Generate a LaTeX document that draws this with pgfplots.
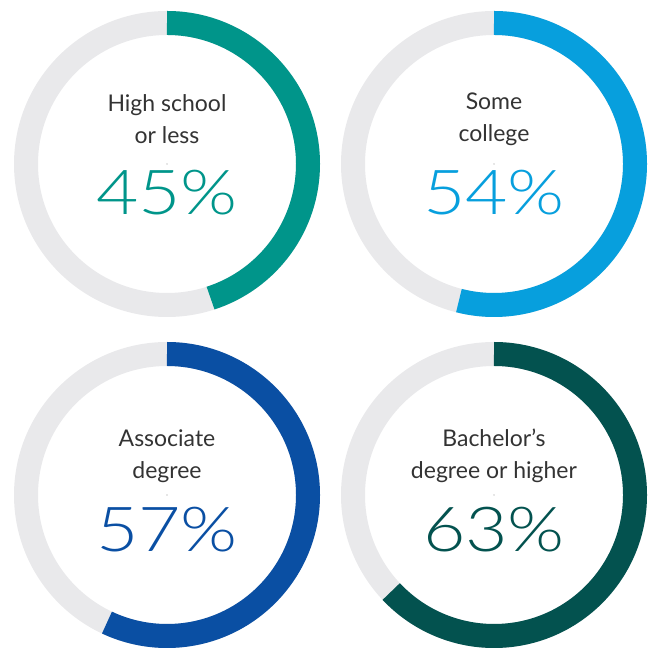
\documentclass[border=0pt]{standalone}
\usepackage{pgfplots}
\pgfplotsset{compat=1.18}
\usepackage{fontspec}
\setmainfont{Lato}
\newfontfamily\light[FakeStretch=1.18]{Lato Light}
\definecolor{ringgray}{HTML}{E9E9EB}
\definecolor{txtgray}{HTML}{333333}
\definecolor{cA}{HTML}{00958A}
\definecolor{cB}{HTML}{079FDD}
\definecolor{cC}{HTML}{0A4FA3}
\definecolor{cD}{HTML}{03524F}
\pgfplotsset{
  donut/.style 2 args={
    scatter, only marks, mark=*, mark size=0.01pt,
    point meta=explicit, point meta min=0, point meta max=100,
    scatter/@pre marker code/.code={%
      \pgfmathsetmacro\endang{90-0.36*\pgfplotspointmetatransformed}
      \pgfmathsetmacro\pv{\pgfplotspointmetatransformed/10}
      \draw[ringgray, line width=24pt] (0,0) circle[radius=141pt];
      \draw[#1, line width=24pt] (0,141pt) arc[start angle=90, end angle=\endang, radius=141pt];
      \node[anchor=center, text=#1, font=\fontsize{62}{62}\light] at (0,#2pt)
        {\pgfmathprintnumber[fixed, precision=0, assume math mode=true]{\pv}\%};
      \begin{scope}
    },
    scatter/@post marker code/.code={\end{scope}},
  },
}
\begin{document}
\begin{tikzpicture}
\begin{axis}[
  x=1pt, y=1pt, xmin=0, xmax=652, ymin=0, ymax=647,
  hide axis, clip=false,
]
\addplot[donut={cA}{-29}] coordinates {(167,483) [45]};
\addplot[donut={cB}{-29}] coordinates {(494,483) [54]};
\addplot[donut={cC}{-35}] coordinates {(167,152) [57]};
\addplot[donut={cD}{-35}] coordinates {(494,152) [63]};
\tikzset{lab/.style={align=center, text=txtgray, font=\fontsize{23}{32}\selectfont}}
\node[lab] at (axis cs:167,528) {High school\\or less};
\node[lab] at (axis cs:494,528) {Some\\college};
\node[lab] at (axis cs:167,191) {Associate\\degree};
\node[lab] at (axis cs:494,191) {Bachelor’s\\degree or higher};
\end{axis}
\pgfresetboundingbox
\useasboundingbox (0,0) rectangle (652pt,647pt);
\end{tikzpicture}
\end{document}
